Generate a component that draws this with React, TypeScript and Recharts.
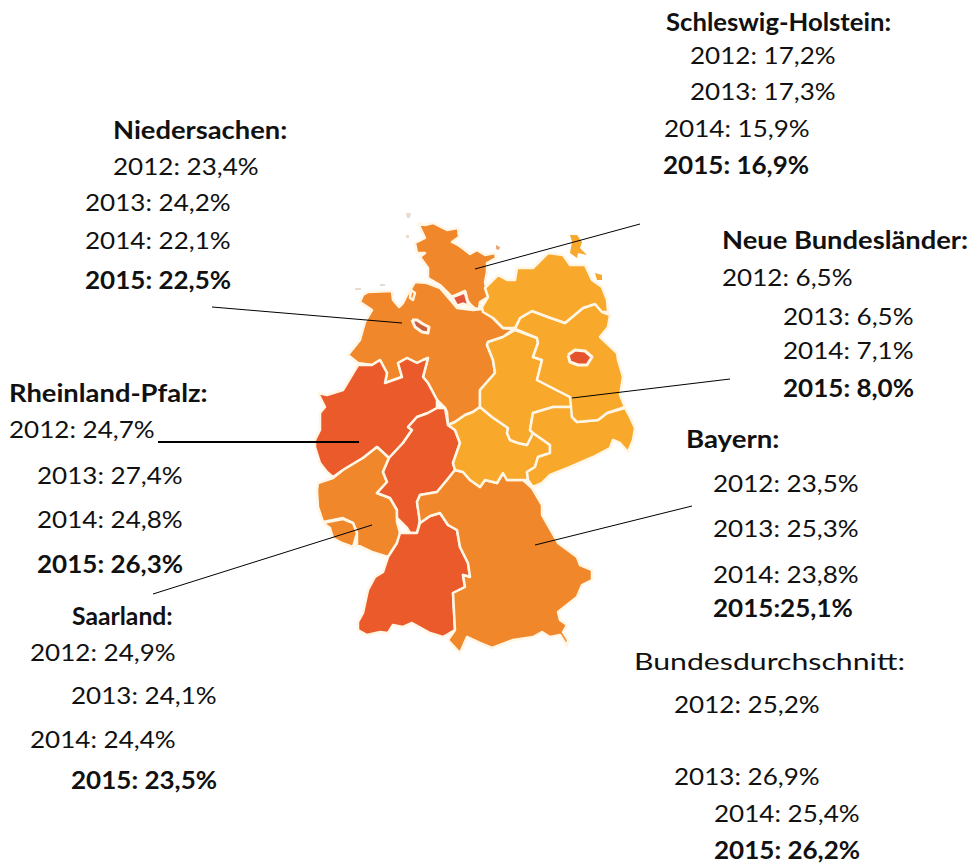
import React from "react";
import { ComposedChart, Scatter, XAxis, YAxis } from "recharts";

type Pair = [number, number];

const years = ["2012", "2013", "2014", "2015"];

// shares per state, 2012-2015
const schleswigHolstein = ["17,2%", "17,3%", "15,9%", "16,9%"];
const neueBundeslaender = ["6,5%", "6,5%", "7,1%", "8,0%"];
const niedersachsen = ["23,4%", "24,2%", "22,1%", "22,5%"];
const rheinlandPfalz = ["24,7%", "27,4%", "24,8%", "26,3%"];
const saarland = ["24,9%", "24,1%", "24,4%", "23,5%"];
const bayern = ["23,5%", "25,3%", "23,8%", "25,1%"];
const bund = ["25,2%", "26,9%", "25,4%", "26,2%"];

const RED = "#EB5A2B";
const ORANGE = "#F0872B";
const YELLOW = "#F8A82B";
const BORDER = "#FFF6E6";
const FAINT = "#E6DCD2";

// map outlines, in picture coordinates
const shOutline: Pair[] = [[418,223],[425,225],[433,223],[447,230],[458,228],[459,237],[452,242],[458,245],[465,250],[470,254],[477,250],[485,255],[495,253],[496,258],[487,263],[487,272],[485,282],[488,297],[480,302],[479,309],[473,308],[467,300],[465,291],[452,297],[440,285],[428,278],[428,268],[420,257],[425,253],[417,253],[415,243],[425,238]];
const fehmarn: Pair[] = [[496,245],[500,247],[499,250],[496,249]];
const sylt: Pair[] = [[406,213],[411,213],[410,218],[407,218]];
const amrum: Pair[] = [[406,235],[409,235],[409,238],[406,238]];
const borkum: Pair[] = [[355,288],[361,288],[361,290],[355,290]];
const wangerooge: Pair[] = [[380,284],[385,284],[385,286],[380,286]];
const hamburg: Pair[] = [[452,297],[465,292],[468,303],[474,308],[463,304],[457,306]];
const ndsOutline: Pair[] = [[363,295],[368,292],[392,291],[393,300],[399,307],[403,303],[407,295],[412,287],[415,282],[427,283],[440,288],[452,302],[457,308],[473,310],[482,309],[493,318],[503,328],[514,329],[503,337],[488,342],[487,345],[493,360],[495,373],[480,390],[480,407],[473,412],[465,415],[455,422],[448,425],[447,412],[445,408],[437,400],[428,383],[423,377],[428,358],[423,360],[417,363],[407,358],[398,363],[402,377],[385,383],[387,373],[380,360],[372,365],[358,363],[348,355],[360,340],[365,322],[372,310],[360,302]];
const bremerhaven: Pair[] = [[411,290],[415,293],[413,300],[410,298]];
const bremen: Pair[] = [[412,320],[417,320],[423,324],[429,327],[428,333],[422,332],[415,327]];
const nrwOutline: Pair[] = [[318,393],[327,395],[343,390],[352,375],[358,365],[372,365],[380,360],[387,373],[385,383],[402,377],[398,363],[407,358],[417,363],[423,360],[428,358],[423,377],[428,383],[437,400],[437,408],[428,413],[417,417],[408,427],[412,430],[403,443],[389,458],[377,447],[363,458],[343,470],[333,477],[327,472],[320,463],[315,447],[315,440],[320,430],[320,413],[325,407]];
const rlpOutline: Pair[] = [[317,490],[318,483],[333,478],[343,470],[363,458],[377,447],[389,458],[383,472],[387,482],[377,493],[390,498],[397,510],[397,522],[400,533],[397,543],[388,557],[372,552],[357,545],[357,533],[353,523],[343,518],[323,522],[318,507]];
const saarOutline: Pair[] = [[323,523],[343,519],[353,523],[357,533],[353,547],[342,543],[333,538],[330,528]];
const hessenOutline: Pair[] = [[408,427],[417,417],[428,413],[437,408],[445,408],[448,425],[455,430],[460,443],[453,463],[455,470],[447,480],[437,492],[420,495],[417,502],[420,520],[417,533],[410,533],[407,528],[402,523],[397,518],[397,510],[390,498],[377,493],[387,482],[383,472],[389,458],[403,443],[412,430]];
const bwOutline: Pair[] = [[388,557],[397,543],[400,533],[407,533],[417,533],[420,523],[430,516],[440,513],[448,525],[457,530],[460,547],[468,563],[470,577],[463,575],[465,587],[453,593],[455,630],[443,637],[430,633],[412,623],[403,627],[393,625],[388,633],[380,632],[367,635],[358,630],[358,622],[363,613],[368,590],[375,577],[383,572]];
const bayernOutline: Pair[] = [[420,495],[437,492],[447,480],[455,470],[463,472],[470,480],[480,487],[485,480],[497,483],[503,473],[507,480],[523,480],[532,488],[542,505],[542,515],[558,543],[577,557],[580,565],[592,570],[592,580],[582,585],[577,597],[558,612],[560,620],[567,625],[563,632],[568,640],[567,646],[560,635],[550,637],[542,632],[533,637],[513,640],[492,648],[480,643],[467,637],[460,653],[448,640],[455,630],[453,593],[465,587],[463,575],[470,577],[468,563],[460,547],[457,530],[448,525],[440,513],[430,516],[420,523],[417,502]];
const thueringen: Pair[] = [[480,407],[492,417],[508,428],[507,433],[510,440],[518,443],[527,445],[533,433],[543,440],[550,445],[550,453],[538,457],[535,467],[527,472],[528,480],[523,480],[507,480],[503,473],[497,483],[485,480],[480,487],[470,480],[463,472],[455,470],[453,463],[460,443],[455,430],[448,425],[455,422],[465,415],[473,412]];
const sachsenAnhalt: Pair[] = [[488,342],[503,337],[515,330],[537,338],[538,343],[533,357],[542,360],[537,380],[570,397],[572,407],[553,407],[533,413],[530,430],[533,433],[527,445],[518,443],[510,440],[507,433],[508,428],[492,417],[480,407],[480,390],[495,373],[493,360],[487,345]];
const sachsen: Pair[] = [[533,433],[530,430],[533,413],[553,407],[572,407],[572,417],[577,422],[598,420],[607,413],[625,408],[630,417],[635,428],[633,440],[628,452],[620,443],[613,440],[610,448],[593,457],[570,467],[550,475],[542,483],[533,487],[528,480],[527,472],[535,467],[538,457],[550,453],[550,445],[543,440]];
const brandenburg: Pair[] = [[515,329],[520,318],[532,311],[548,317],[565,323],[583,308],[595,304],[602,312],[610,315],[608,327],[600,337],[617,353],[618,360],[623,377],[620,395],[625,407],[607,413],[598,420],[577,422],[572,417],[570,397],[537,380],[542,360],[533,357],[538,343],[537,338]];
const berlin: Pair[] = [[568,355],[575,350],[585,351],[592,357],[587,365],[578,365],[570,362]];
const mvOutline: Pair[] = [[482,307],[488,297],[485,288],[490,283],[498,275],[507,280],[515,280],[517,268],[533,268],[543,258],[548,253],[563,255],[570,265],[585,265],[592,280],[602,287],[607,300],[608,312],[602,312],[595,304],[583,308],[565,323],[548,317],[532,311],[520,318],[515,328],[503,328],[493,318],[483,312]];
const ruegen: Pair[] = [[570,235],[577,235],[582,242],[580,248],[587,255],[578,253],[577,258],[570,253],[572,242]];
const usedom: Pair[] = [[595,273],[602,275],[602,280],[597,280]];

const regions: { points: Pair[]; fill: string; width?: number }[] = [
  { points: sylt, fill: FAINT, width: 0 },
  { points: amrum, fill: FAINT, width: 0 },
  { points: borkum, fill: FAINT, width: 0 },
  { points: wangerooge, fill: FAINT, width: 0 },
  { points: shOutline, fill: ORANGE },
  { points: fehmarn, fill: "#E8A878", width: 0 },
  { points: ndsOutline, fill: ORANGE },
  { points: hamburg, fill: "#E2553A", width: 3 },
  { points: bremerhaven, fill: ORANGE },
  { points: bremen, fill: "#C9603F", width: 3 },
  { points: nrwOutline, fill: RED },
  { points: rlpOutline, fill: ORANGE },
  { points: saarOutline, fill: ORANGE },
  { points: hessenOutline, fill: RED },
  { points: bwOutline, fill: RED },
  { points: bayernOutline, fill: ORANGE },
  { points: thueringen, fill: YELLOW },
  { points: sachsenAnhalt, fill: YELLOW },
  { points: sachsen, fill: YELLOW },
  { points: brandenburg, fill: YELLOW },
  { points: mvOutline, fill: YELLOW },
  { points: ruegen, fill: YELLOW, width: 0 },
  { points: usedom, fill: YELLOW, width: 0 },
  { points: berlin, fill: "#E5532E", width: 3 },
];

const leaders: { from: Pair; to: Pair; width: number }[] = [
  { from: [475, 269], to: [640, 224], width: 1 },
  { from: [212, 307], to: [402, 323], width: 1 },
  { from: [158, 442], to: [359, 442], width: 2 },
  { from: [153, 594], to: [372, 525], width: 1 },
  { from: [572, 398], to: [730, 379], width: 1 },
  { from: [535, 545], to: [692, 506], width: 1 },
];

type Block = {
  title: string;
  titleBold?: boolean;
  titleAt: Pair;
  titleStretch: number;
  values: string[];
  rows: Pair[];
  tight?: boolean;
};

const blocks: Block[] = [
  { title: "Schleswig-Holstein:", titleAt: [666, 31], titleStretch: 1.07, values: schleswigHolstein, rows: [[690, 64], [690, 100], [664, 137], [663, 174]] },
  { title: "Neue Bundesländer:", titleAt: [722, 249], titleStretch: 1.14, values: neueBundeslaender, rows: [[722, 286], [783, 325], [783, 359], [783, 397]] },
  { title: "Niedersachen:", titleAt: [113, 139], titleStretch: 1.14, values: niedersachsen, rows: [[113, 175], [85, 211], [85, 249], [85, 289]] },
  { title: "Rheinland-Pfalz:", titleAt: [9, 402], titleStretch: 1.14, values: rheinlandPfalz, rows: [[9, 438], [37, 484], [37, 528], [37, 573]] },
  { title: "Saarland:", titleAt: [72, 625], titleStretch: 1.03, values: saarland, rows: [[30, 661], [71, 704], [30, 748], [71, 789]] },
  { title: "Bayern:", titleAt: [686, 448], titleStretch: 1.15, values: bayern, rows: [[713, 492], [713, 537], [713, 583], [713, 617]], tight: true },
  { title: "Bundesdurchschnitt:", titleBold: false, titleAt: [634, 670], titleStretch: 1.26, values: bund, rows: [[674, 713], [674, 785], [714, 822], [714, 859]] },
];

const VALUE_STRETCH = 1.085;

const textRows = blocks.flatMap((b) => [
  { x: b.titleAt[0], y: b.titleAt[1], label: b.title, bold: b.titleBold !== false, stretch: b.titleStretch },
  ...b.values.map((v, i) => ({
    x: b.rows[i][0],
    y: b.rows[i][1],
    label: `${years[i]}:${b.tight && i === 3 ? "" : " "}${v}`,
    bold: i === 3,
    stretch: VALUE_STRETCH,
  })),
]);

const toPoints = (list: Pair[]) => [...list, list[0]].map(([x, y]) => ({ x, y }));
const noDot = () => <g />;

const TextShape = (props: any) => (
  <text
    transform={`translate(${props.cx} ${props.cy}) scale(${props.payload.stretch} 1)`}
    fontFamily="Lato, sans-serif"
    fontSize={24}
    fontWeight={props.payload.bold ? 700 : 400}
    fill="#111"
  >
    {props.payload.label}
  </text>
);

export default function App() {
  return (
    <div style={{ position: "absolute", left: 0, top: 0, background: "#fff" }}>
      <ComposedChart width={972} height={866} margin={{ top: 0, right: 0, bottom: 0, left: 0 }}>
        <XAxis type="number" dataKey="x" domain={[0, 972]} hide />
        <YAxis type="number" dataKey="y" domain={[0, 866]} reversed hide />
        {regions.map((r, i) => (
          <Scatter
            key={i}
            data={toPoints(r.points)}
            shape={noDot}
            isAnimationActive={false}
            line={{
              fill: r.fill,
              stroke: r.width === 0 ? r.fill : BORDER,
              strokeWidth: r.width ?? 2.5,
              strokeLinejoin: "round",
            }}
          />
        ))}
        {leaders.map((l, i) => (
          <Scatter
            key={`leader-${i}`}
            data={toPoints([l.from, l.to]).slice(0, 2)}
            shape={noDot}
            isAnimationActive={false}
            line={{ stroke: "#000", strokeWidth: l.width, fill: "none" }}
          />
        ))}
        <Scatter data={textRows} shape={TextShape} isAnimationActive={false} />
      </ComposedChart>
    </div>
  );
}
